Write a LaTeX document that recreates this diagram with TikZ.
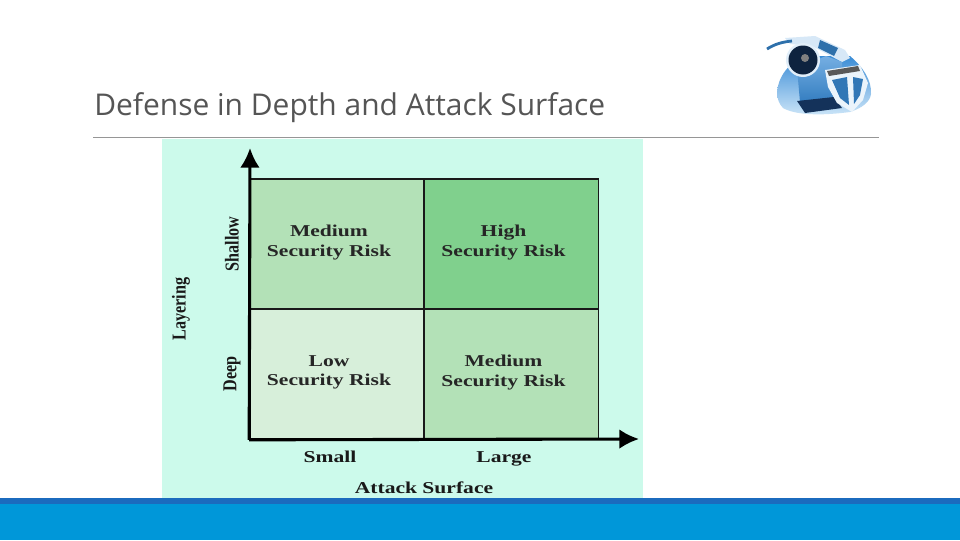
\documentclass[tikz,border=0pt]{standalone}
\usepackage{fontspec}
\setmainfont{Open Sans}
\newfontfamily\riskfont[FakeStretch=1.3]{Liberation Serif}
\newfontfamily\axisfont[FakeStretch=0.82]{Liberation Serif}
\usetikzlibrary{arrows.meta,positioning,calc}
\definecolor{PanelMint}{RGB}{204, 250, 235}
\definecolor{RiskHigh}{RGB}{128, 208, 141}
\definecolor{RiskMedium}{RGB}{179, 225, 183}
\definecolor{RiskLow}{RGB}{215, 239, 218}
\definecolor{FooterBlue}{RGB}{0, 151, 217}
\definecolor{FooterDark}{RGB}{27, 107, 190}
\definecolor{TitleGrey}{RGB}{85, 85, 85}
\definecolor{RuleGrey}{RGB}{150, 150, 150}
\definecolor{LogoBlue}{RGB}{58, 140, 214}
\definecolor{LogoPale}{RGB}{205, 230, 248}
\definecolor{LogoDark}{RGB}{20, 50, 90}
\tikzset{
  cell/.style={draw=black!90, line width=1.1pt, minimum width=4.35cm, minimum height=3.25cm},
  risktext/.style={align=center, inner sep=0pt, font=\riskfont\bfseries\fontsize{11.8}{14}\selectfont, text=black!85},
  axislabel/.style={anchor=base, inner sep=0pt, font=\riskfont\bfseries\fontsize{11.8}{14}\selectfont, text=black!90},
  sidelabel/.style={rotate=90, font=\axisfont\bfseries\fontsize{14}{16}\selectfont, text=black!90},
  axisline/.style={line width=2.2pt, -{Latex[length=14pt,width=14pt]}}
}
\begin{document}
\begin{tikzpicture}[x=0.025cm,y=-0.025cm]
  \useasboundingbox (0,0) rectangle (960,540);
  \fill[white] (0,0) rectangle (960,540);
  \fill[PanelMint] (162,139) rectangle (643,498);
  % footer
  \fill[FooterBlue] (0,498) rectangle (960,540);
  \fill[FooterDark] (0,498) rectangle (960,504);
  % title
  \node[anchor=base west, inner sep=0pt, text=TitleGrey, font=\fontsize{21.3}{26}\selectfont] (title) at (94,115) {Defense in Depth and Attack Surface};
  \draw[RuleGrey, line width=0.6pt] (93,137) -- (879,137);
  % matrix
  \foreach \name/\clr/\xpos/\ypos/\txt in {ms/RiskMedium/337/244/Medium, hs/RiskHigh/511.5/244/High, ld/RiskLow/337/374/Low, md/RiskMedium/511.5/374/Medium} {
    \node[cell, fill=\clr] (\name) at (\xpos,\ypos) {};
    \node[risktext] (\name text) at ($(\name)+(-8,-1.8)$) {\txt\\Security Risk};
  }
  \coordinate (origin) at (ld.south west);
  \coordinate (ytip) at (250,148);
  \coordinate (xtip) at (639,439);
  \draw[axisline] (origin) -- (ytip);
  \draw[axisline] (origin) -- (xtip);
  % axis labels
  \node[axislabel] (small) at (330,462.5) {Small};
  \node[axislabel] (large) at (504,462.5) {Large};
  \node[axislabel] (surface) at (424,493) {Attack Surface};
  \node[sidelabel] (shallow) at (232,244) {Shallow};
  \node[sidelabel] (deep) at (232,374) {Deep};
  \node[sidelabel] (layering) at (181,309) {Layering};
  % logo
  \shade[top color=LogoBlue, bottom color=LogoPale] (777,92) .. controls (778,78) and (788,62) .. (806,56) -- (850,56) .. controls (862,66) and (872,80) .. (871,94) .. controls (870,102) and (862,108) .. (850,112) .. controls (820,116) and (795,115) .. (783,108) .. controls (779,104) and (777,98) .. (777,92) -- cycle;
  \fill[white!80!LogoBlue] (785,38) -- (815,36) -- (845,50) -- (850,58) -- (842,62) -- (812,46) -- (790,44) -- cycle;
  \draw[LogoBlue!80!black, line width=2pt] (767,49) .. controls (775,44) and (782,42) .. (792,41);
  \fill[LogoBlue!80!black] (820,40) -- (838,48) -- (834,56) -- (818,48) -- cycle;
  \shade[top color=LogoBlue!70!white, bottom color=LogoBlue!90!black] (797,68) -- (826,56) -- (842,62) -- (842,98) -- (800,102) -- cycle;
  \fill[LogoDark] (797,101) -- (834,97) -- (842,108) -- (805,113) -- cycle;
  \fill[white!85!LogoBlue] (803,60) circle (17);
  \fill[LogoDark!70!black] (803,60) circle (14.5);
  \fill[black!50] (805,58) circle (4);
  \fill[white!90!LogoBlue] (825,70) -- (860,65) -- (868,83) -- (863,100) -- (852,112) -- (837,103) -- (828,87) -- cycle;
  \fill[LogoBlue!85!black] (832,80) -- (847,77) -- (849,105) -- (840,98) -- cycle;
  \fill[LogoBlue!85!black] (853,77) -- (863,79) -- (860,95) -- (854,104) -- cycle;
  \fill[black!65] (827,71) -- (858,66) -- (860,71) -- (829,76) -- cycle;
\end{tikzpicture}
\end{document}
